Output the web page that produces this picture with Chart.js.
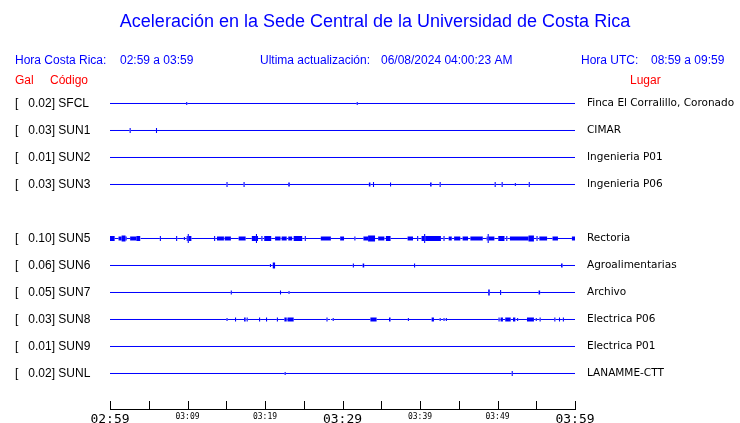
<!DOCTYPE html>
<html>
<head>
<meta charset="utf-8">
<script src="https://cdn.jsdelivr.net/npm/chart.js@4"></script>
<style>
  body { margin: 0; background: #fff; }
  #wrap { width: 740px; height: 423px; }
</style>
</head>
<body>
<div id="wrap"><canvas id="acc" width="740" height="423"></canvas></div>
<script>
const BLUE = '#0000ff';
const RED = '#ff0000';

// stations, top to bottom (row 4 is empty: SUN4 not reporting)
const STATIONS = ['SFCL', 'SUN1', 'SUN2', 'SUN3', 'SUN5', 'SUN6', 'SUN7', 'SUN8', 'SUN9', 'SUNL'];
const ROWS = [0, 1, 2, 3, 5, 6, 7, 8, 9, 10];
const PEAK_GAL = [0.02, 0.03, 0.01, 0.03, 0.10, 0.06, 0.05, 0.03, 0.01, 0.02];
const PLACES = ['Finca El Corralillo, Coronado', 'CIMAR', 'Ingenieria P01', 'Ingenieria P06', 'Rectoria',
    'Agroalimentarias', 'Archivo', 'Electrica P06', 'Electrica P01', 'LANAMME-CTT'];

// x axis: minutes after 02:59 local time
const TICK_LABELS = ['02:59', '03:09', '03:19', '03:29', '03:39', '03:49', '03:59'];

// activity on each trace: [start minute, end minute, trace amplitude]
const SFCL_EVENTS = [[9.9, 9.9, 3], [31.9, 31.9, 3]];
const SUN1_EVENTS = [[2.6, 2.6, 5], [6.0, 6.0, 5]];
const SUN2_EVENTS = [];
const SUN3_EVENTS = [[15.1, 15.1, 5], [17.3, 17.3, 5], [23.0, 23.2, 4], [33.4, 33.6, 4], [34.0, 34.0, 5],
    [36.2, 36.2, 4], [41.3, 41.5, 4], [42.6, 42.6, 5], [49.7, 49.7, 5], [50.6, 50.6, 5], [52.3, 52.3, 3],
    [54.1, 54.1, 5]];
const SUN5_EVENTS = [[0.0, 0.6, 5], [1.1, 2.15, 4], [1.5, 2.0, 6], [2.6, 3.95, 4], [3.4, 3.9, 5], [6.5, 6.5, 5],
    [8.6, 8.6, 5], [9.6, 9.6, 3], [9.9, 10.5, 5], [10.1, 10.1, 9], [13.5, 13.5, 5], [13.8, 14.7, 4],
    [14.8, 15.6, 4], [16.6, 17.5, 4], [18.3, 19.1, 5], [18.9, 18.9, 9], [19.6, 19.6, 5], [19.9, 20.8, 5],
    [21.3, 22.0, 4], [22.15, 22.8, 4], [23.0, 23.5, 4], [23.7, 24.8, 5], [25.2, 25.2, 5], [27.2, 28.5, 4],
    [29.7, 30.2, 4], [31.6, 31.6, 4], [32.7, 34.2, 4], [33.3, 34.2, 6], [34.6, 35.4, 4], [35.6, 36.2, 5],
    [38.4, 39.1, 4], [39.7, 39.7, 5], [40.2, 42.7, 5], [40.6, 40.6, 9], [43.1, 43.1, 5], [43.7, 44.1, 4],
    [44.4, 45.2, 4], [45.5, 46.2, 4], [46.5, 48.1, 4], [48.6, 49.6, 4], [48.8, 48.8, 9], [50.1, 50.9, 5],
    [51.2, 51.2, 5], [51.6, 54.0, 4], [54.0, 54.7, 6], [55.1, 55.1, 5], [55.4, 56.4, 4], [57.1, 57.8, 4],
    [59.6, 60.0, 4]];
const SUN6_EVENTS = [[20.7, 20.7, 3], [21.0, 21.3, 6], [31.4, 31.4, 4], [32.6, 32.8, 4], [39.3, 39.3, 4],
    [58.2, 58.4, 4]];
const SUN7_EVENTS = [[15.65, 15.65, 4], [22.0, 22.0, 4], [23.1, 23.1, 3], [48.8, 49.0, 6], [50.4, 50.4, 5],
    [55.3, 55.5, 4]];
const SUN8_EVENTS = [[15.1, 15.1, 3], [16.2, 16.2, 4], [17.3, 17.5, 4], [17.7, 17.7, 4], [19.3, 19.3, 4],
    [20.2, 20.2, 4], [21.6, 21.6, 4], [22.5, 22.8, 4], [22.9, 23.7, 4], [28.0, 28.0, 4], [28.4, 28.5, 4],
    [28.8, 28.8, 3], [33.6, 34.4, 4], [36.0, 36.2, 4], [38.5, 38.5, 3], [41.5, 41.8, 4], [42.6, 42.6, 3],
    [43.1, 43.1, 3], [43.4, 43.4, 3], [50.2, 50.2, 4], [50.4, 50.7, 4], [51.0, 51.7, 4], [52.0, 52.3, 4],
    [52.6, 52.6, 3], [53.8, 54.7, 4], [55.0, 55.0, 3], [55.5, 55.5, 4], [57.4, 57.4, 4], [58.0, 58.0, 4],
    [58.5, 58.5, 4]];
const SUN9_EVENTS = [];
const SUNL_EVENTS = [[22.6, 22.6, 3], [51.9, 51.9, 5]];

const EVENTS = [SFCL_EVENTS, SUN1_EVENTS, SUN2_EVENTS, SUN3_EVENTS, SUN5_EVENTS,
    SUN6_EVENTS, SUN7_EVENTS, SUN8_EVENTS, SUN9_EVENTS, SUNL_EVENTS];

const X_MIN = 0;
const X_MAX = 60;
const SPIKE_HALF = 0.07; // a single spike is about one pixel wide

function span(ev) {
    const [a, b] = ev;
    return a === b ? [a - SPIKE_HALF, b + SPIKE_HALF] : [a, b];
}

// step trace: one point at every change of amplitude
function buildTrace(row, events) {
    const cuts = new Set([X_MIN, X_MAX]);
    events.forEach((ev) => {
        span(ev).forEach((v) => cuts.add(Math.min(X_MAX, Math.max(X_MIN, v))));
    });
    const xs = [...cuts].sort((p, q) => p - q);
    return xs.map((x, i) => {
        let w = 1;
        if (i < xs.length - 1) {
            const mid = (x + xs[i + 1]) / 2;
            events.forEach((ev) => {
                const [s, e] = span(ev);
                if (mid > s && mid < e) w = Math.max(w, ev[2]);
            });
        }
        return { x, y: row, w };
    });
}

const datasets = STATIONS.map((name, i) => {
    const pts = buildTrace(ROWS[i], EVENTS[i]);
    return {
        label: name,
        data: pts,
        borderColor: BLUE,
        borderWidth: 1,
        pointRadius: 0,
        tension: 0,
        segment: { borderWidth: (c) => pts[c.p0DataIndex].w },
    };
});

const textPlugin = {
    id: 'stationText',
    afterDraw(chart) {
        const { ctx } = chart;
        const y = chart.scales.y;
        const x = chart.scales.x;
        ctx.save();

        // upward tick marks on the time axis
        ctx.strokeStyle = '#000';
        ctx.lineWidth = 1;
        x.ticks.forEach((t) => {
            const px = Math.round(x.getPixelForValue(t.value)) + 0.5;
            ctx.beginPath();
            ctx.moveTo(px, chart.chartArea.bottom);
            ctx.lineTo(px, chart.chartArea.bottom - 8);
            ctx.stroke();
        });

        ctx.textBaseline = 'middle';
        ctx.fillStyle = BLUE;
        ctx.textAlign = 'center';
        ctx.font = '18px "Liberation Sans", Arial, sans-serif';
        ctx.fillText('Aceleración en la Sede Central de la Universidad de Costa Rica', 375, 22);

        ctx.textAlign = 'left';
        ctx.font = '12px "Liberation Sans", Arial, sans-serif';
        ctx.fillText('Hora Costa Rica:', 15, 61);
        ctx.fillText('02:59 a 03:59', 120, 61);
        ctx.fillText('Ultima actualización:', 260, 61);
        ctx.fillText('06/08/2024 04:00:23 AM', 381, 61);
        ctx.fillText('Hora UTC:', 581, 61);
        ctx.fillText('08:59 a 09:59', 651, 61);

        ctx.fillStyle = RED;
        ctx.fillText('Gal', 15, 81);
        ctx.fillText('Código', 50, 81);
        ctx.fillText('Lugar', 630, 81);

        ctx.fillStyle = '#000';
        STATIONS.forEach((name, i) => {
            const py = y.getPixelForValue(ROWS[i]);
            ctx.font = '12px "Liberation Sans", Arial, sans-serif';
            ctx.fillText(`[   ${PEAK_GAL[i].toFixed(2)}] ${name}`, 15, py);
            ctx.font = '10.5px "DejaVu Sans", sans-serif';
            ctx.fillText(PLACES[i], 587, py);
        });
        ctx.restore();
    },
};

new Chart(document.getElementById('acc'), {
    type: 'line',
    data: { datasets },
    plugins: [textPlugin],
    options: {
        responsive: false,
        animation: false,
        events: [],
        layout: { padding: { left: 110, right: 165, top: 90, bottom: 0 } },
        plugins: { legend: { display: false }, tooltip: { enabled: false } },
        scales: {
            x: {
                type: 'linear',
                min: X_MIN,
                max: X_MAX,
                grid: { display: false, drawTicks: false },
                border: { display: true, color: '#000', width: 1 },
                afterFit: (scale) => { scale.height = 14; },
                ticks: {
                    stepSize: 5,
                    autoSkip: false,
                    maxRotation: 0,
                    padding: 3,
                    color: '#000',
                    font: (c) => ({
                        family: '"DejaVu Sans Mono", monospace',
                        size: c.tick && c.tick.value % 30 === 0 ? 13 : 8,
                    }),
                    callback: (v) => (v % 10 === 0 ? TICK_LABELS[v / 10] : ''),
                },
            },
            y: {
                display: false,
                reverse: true,
                min: -0.5,
                max: 11.315,
            },
        },
    },
});
</script>
</body>
</html>
